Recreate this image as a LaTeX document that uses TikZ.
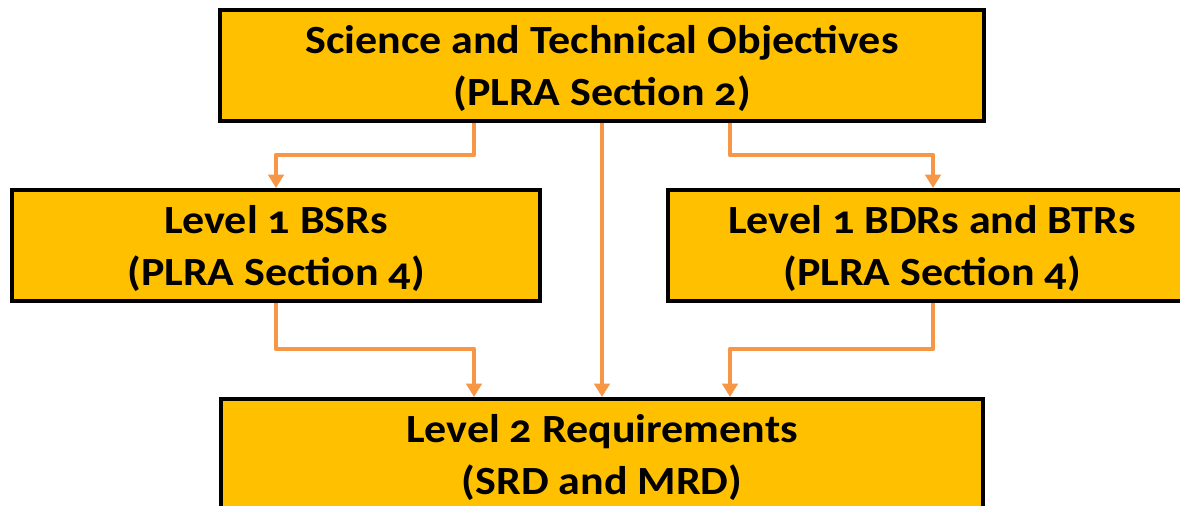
\documentclass[tikz,border=0pt]{standalone}
\usepackage{fontspec}
\setmainfont{Carlito}[Numbers=OldStyle, FakeStretch=1.1]
\usetikzlibrary{arrows.meta,shadows}
\definecolor{boxfill}{HTML}{FFC000}
\definecolor{linkcol}{HTML}{F79646}
\tikzset{
  reqbox/.style={draw=black, fill=boxfill, line width=3pt, inner sep=0pt,
    align=center, font=\bfseries\fontsize{30}{39}\selectfont,
    text height=70pt, text depth=10pt,
    minimum height=83.25pt,
    drop shadow={opacity=0.25, shadow xshift=1pt, shadow yshift=-1pt}},
  link/.style={draw=linkcol, line width=3.5pt, line join=round,
    -{Triangle[width=11.5pt,length=10pt]}}
}
\begin{document}
\begin{tikzpicture}[x=0.75pt,y=-0.75pt]
\clip (0,0) rectangle (1180,506);
\fill[white] (0,0) rectangle (1180,506);

% requirement boxes
\node[reqbox, minimum width=573pt] (sto) at (602,65.5)
  {Science and Technical Objectives\\(PLRA Section 2)};
\node[reqbox, minimum width=396pt] (bsr) at (276,245.5)
  {Level 1 BSRs\\(PLRA Section 4)};
\node[reqbox, minimum width=396pt] (bdr) at (932,245.5)
  {Level 1 BDRs and BTRs\\(PLRA Section 4)};
\node[reqbox, minimum width=571.5pt] (lvl) at (602,454.5)
  {Level 2 Requirements\\(SRD and MRD)};

% routing positions for the elbow connectors
\coordinate (xa) at (474,0);
\coordinate (xb) at (730,0);
\coordinate (xl) at (276,0);
\coordinate (xr) at (933,0);
\coordinate (ya) at (0,155);
\coordinate (yb) at (0,349);

% connectors
\draw[link] (xa |- sto.south) -- (xa |- ya) -- (xl |- ya) -- (xl |- bsr.north);
\draw[link] (xb |- sto.south) -- (xb |- ya) -- (xr |- ya) -- (xr |- bdr.north);
\draw[link] (sto.south) -- (lvl.north);
\draw[link] (xl |- bsr.south) -- (xl |- yb) -- (xa |- yb) -- (xa |- lvl.north);
\draw[link] (xr |- bdr.south) -- (xr |- yb) -- (xb |- yb) -- (xb |- lvl.north);
\end{tikzpicture}
\end{document}
